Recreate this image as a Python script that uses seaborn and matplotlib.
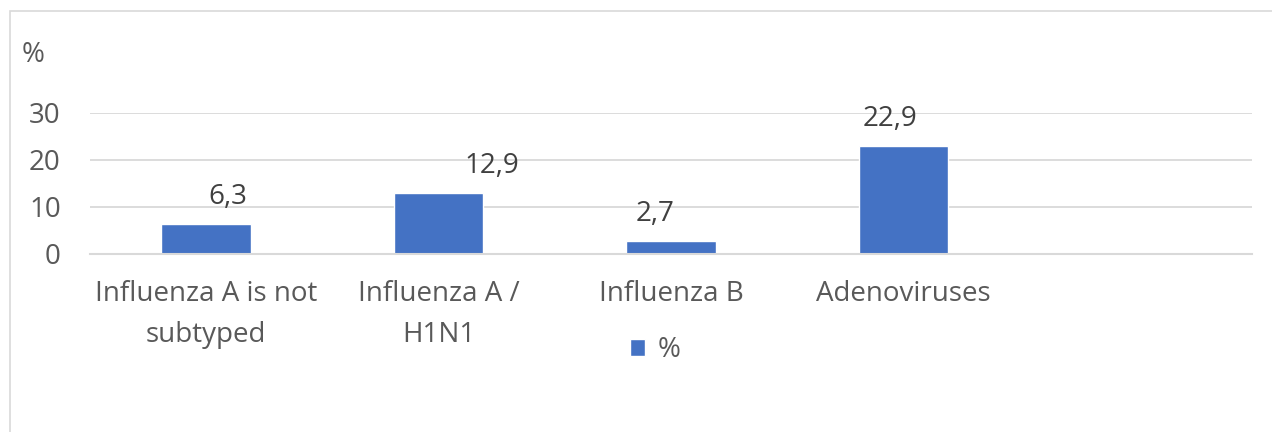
import matplotlib
matplotlib.use("Agg")
import matplotlib.pyplot as plt
import pandas as pd
import seaborn as sns
from matplotlib.patches import Rectangle

categories = ["Influenza A is not\nsubtyped", "Influenza A /\nH1N1", "Influenza B", "Adenoviruses", ""]
values = [6.3, 12.9, 2.7, 22.9, None]
value_labels = ["6,3", "12,9", "2,7", "22,9"]
series_name = "%"
yticks = [0, 10, 20, 30]

sns.set_theme(style="white")
plt.rcParams["font.family"] = ["Open Sans", "DejaVu Sans"]

TEXT = "#595959"
GRID = "#d9d9d9"
BLUE = "#4472c4"
FS = 20

df = pd.DataFrame({"category": categories, "value": values, "series": series_name})

fig = plt.figure(figsize=(12.72, 4.32), dpi=100)
# chart-area border, cropped at right and bottom like the reference
fig.patches.append(Rectangle((10 / 1272, -0.1), 1.2, 1.1 - 11 / 432,
                             transform=fig.transFigure, fill=False, edgecolor=GRID, linewidth=1.2))
ax = fig.add_axes([90 / 1272, 1 - 254 / 432, 1162 / 1272, 141 / 432])

sns.barplot(data=df, x="category", y="value", hue="series", palette=[BLUE],
            width=0.385, ax=ax, saturation=1, legend=True)

ax.set_ylim(0, 30)
ax.set_xlim(-0.5, len(categories) - 0.5)
ax.set_yticks(yticks)
ax.grid(axis="y", color=GRID, linewidth=1.3)
ax.set_axisbelow(True)
for side in ["left", "right", "top"]:
    ax.spines[side].set_visible(False)
ax.spines["bottom"].set_color(GRID)
ax.spines["bottom"].set_linewidth(1.5)

ax.set_xlabel("")
ax.set_ylabel("")
ax.tick_params(axis="y", length=0, labelsize=FS, labelcolor=TEXT, pad=21)
ax.tick_params(axis="x", which="major", length=0, labelsize=FS, labelcolor=TEXT, pad=19)
ax.set_xticks([i - 0.5 for i in range(len(categories) + 1)], minor=True)
ax.tick_params(axis="x", which="minor", length=7, width=1.3, color=GRID, direction="out")
for lab in ax.get_xticklabels():
    lab.set_linespacing(1.6)

# data labels, nudged where Excel placed them
label_dx = [22, 53, -16, -13]
for i, (v, txt) in enumerate(zip(values, value_labels)):
    ax.annotate(txt, (i, v), xytext=(label_dx[i] * 0.72, 20), textcoords="offset points",
                ha="center", va="center", fontsize=FS, color="#404040")

fig.text(22 / 1272, 1 - 55 / 432, "%", fontsize=FS, color=TEXT, va="center", ha="left")

handles, labels = ax.get_legend_handles_labels()
ax.legend_.remove()
fig.legend(handles, labels, loc="center", bbox_to_anchor=(655 / 1272, 1 - 350 / 432), frameon=False,
           fontsize=FS, labelcolor=TEXT, handlelength=0.55, handleheight=0.55, handletextpad=0.45)

fig.savefig("out.png", dpi=100)
